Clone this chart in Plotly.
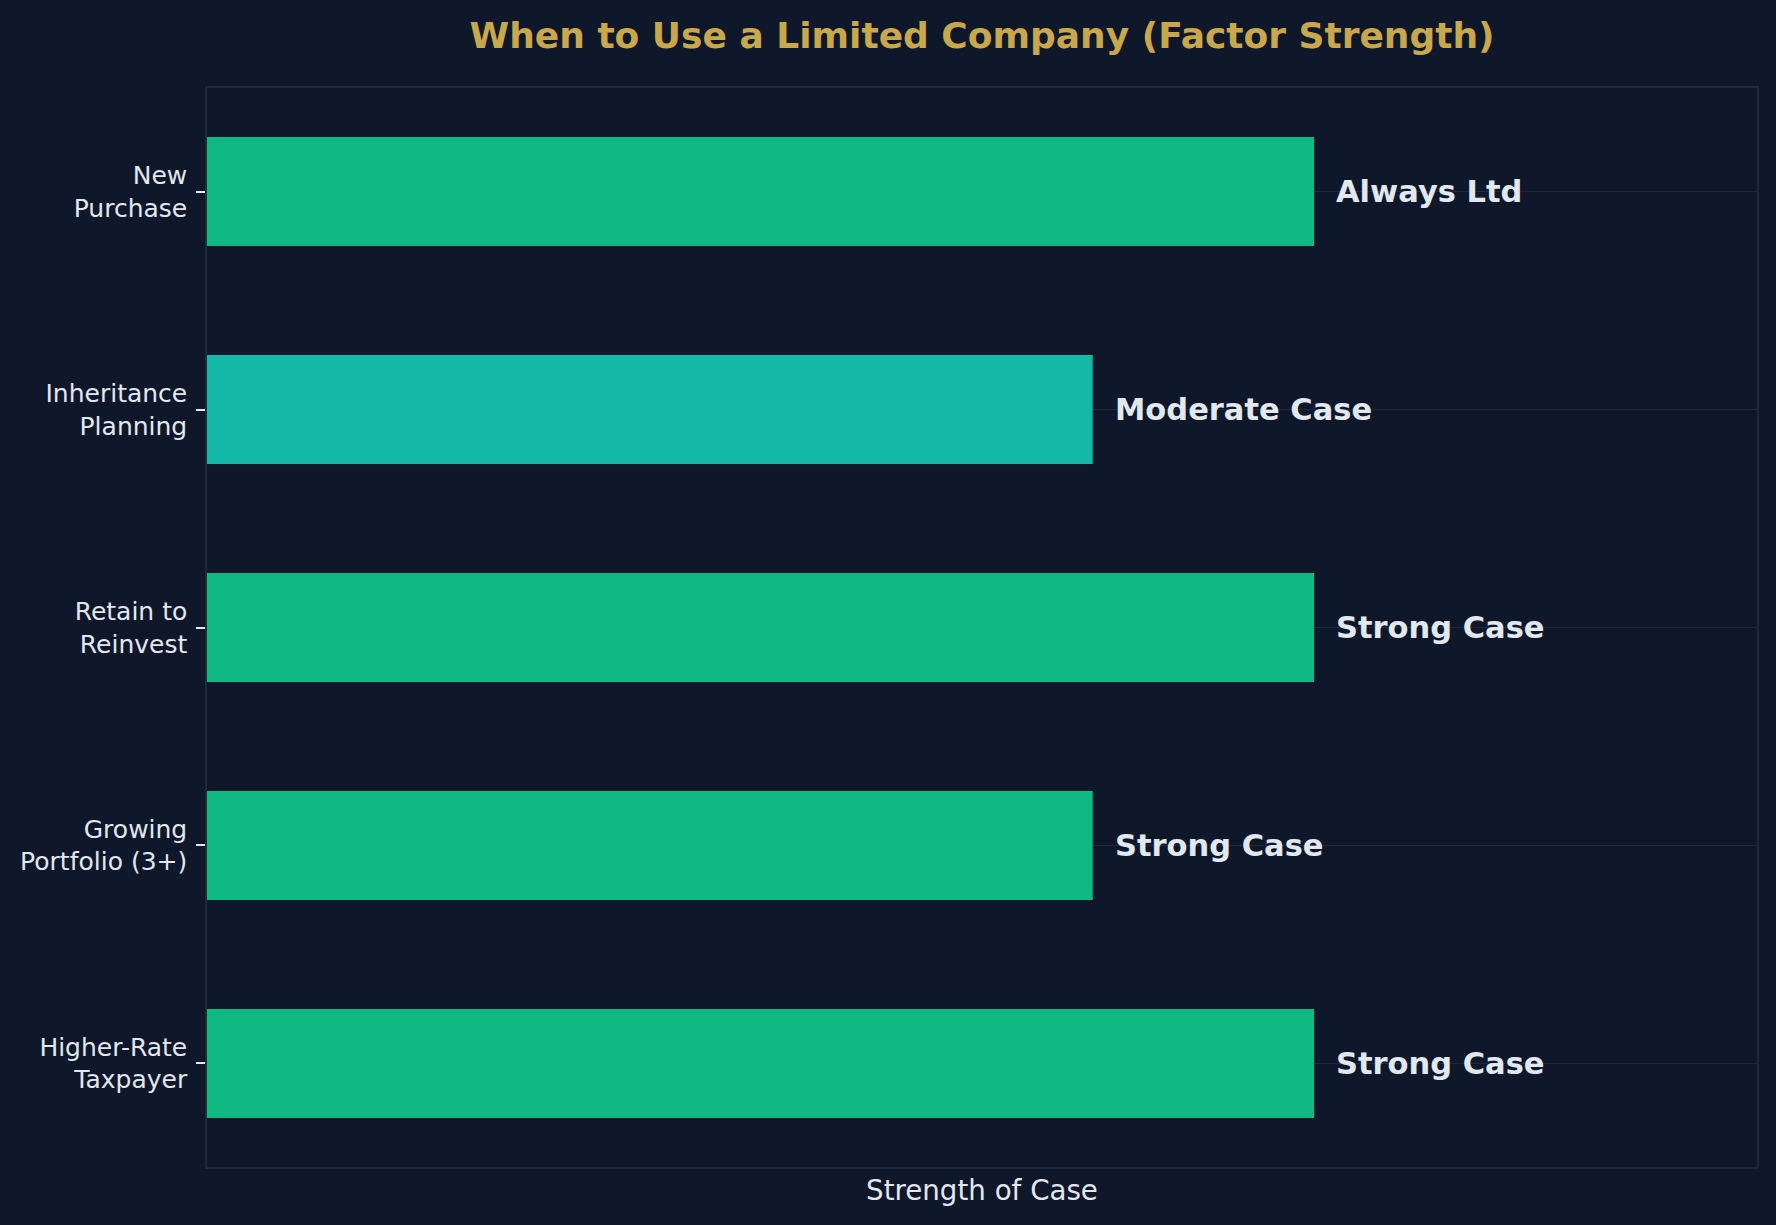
import plotly.graph_objects as go

# ---- data ----
categories = ["New Purchase", "Inheritance Planning", "Retain to Reinvest",
              "Growing Portfolio (3+)", "Higher-Rate Taxpayer"]
tick_labels = ["New<br>Purchase", "Inheritance<br>Planning", "Retain to<br>Reinvest",
               "Growing<br>Portfolio (3+)", "Higher-Rate<br>Taxpayer"]
strength = [5, 4, 5, 4, 5]
case_labels = ["Always Ltd", "Moderate Case", "Strong Case", "Strong Case", "Strong Case"]
x_max = 7

# ---- styles ----
BG = "#0f172a"
SPINE = "#1e293b"
TEXT = "#e2e8f0"
GOLD = "#c9a84c"
bar_colors = ["#10b981", "#14b8a6", "#10b981", "#10b981", "#10b981"]
FONT = "DejaVu Sans"

fig = go.Figure()
fig.add_trace(go.Bar(
    x=strength,
    y=categories,
    orientation="h",
    width=0.5,
    marker=dict(color=bar_colors, line=dict(width=0)),
    hoverinfo="skip",
))

for cat, val, lab in zip(categories, strength, case_labels):
    fig.add_annotation(
        x=val + 0.09, y=cat, xref="x", yref="y",
        text=lab, showarrow=False,
        xanchor="left", yanchor="middle",
        font=dict(family=FONT, size=30.5, color=TEXT, weight="bold"),
    )

fig.update_layout(
    width=1776, height=1225, autosize=False,
    paper_bgcolor=BG, plot_bgcolor=BG,
    margin=dict(l=207, r=19, t=88, b=58, pad=0),
    showlegend=False,
    font=dict(family=FONT, color=TEXT),
    title=dict(
        text="When to Use a Limited Company (Factor Strength)",
        font=dict(family=FONT, size=36, color=GOLD, weight="bold"),
        x=0.5, xanchor="center", xref="paper",
        y=1 - 35 / 1225, yanchor="middle", yref="container",
    ),
    xaxis=dict(
        range=[0, x_max],
        showgrid=False, zeroline=False,
        showticklabels=False, ticks="",
        showline=True, mirror=True, linecolor=SPINE, linewidth=1.5,
        title=dict(text="Strength of Case", font=dict(family=FONT, size=27.7, color=TEXT), standoff=13),
    ),
    yaxis=dict(
        type="category",
        categoryorder="array", categoryarray=categories,
        range=[4.475, -0.475],
        tickmode="array", tickvals=categories, ticktext=tick_labels,
        ticks="outside", ticklen=9, tickwidth=1.5, tickcolor=TEXT,
        ticklabelstandoff=4,
        tickfont=dict(family=FONT, size=25, color=TEXT),
        showgrid=True, gridcolor=SPINE, gridwidth=1,
        zeroline=False,
        showline=True, mirror=True, linecolor=SPINE, linewidth=1.5,
    ),
)

fig.write_html("out.html")
